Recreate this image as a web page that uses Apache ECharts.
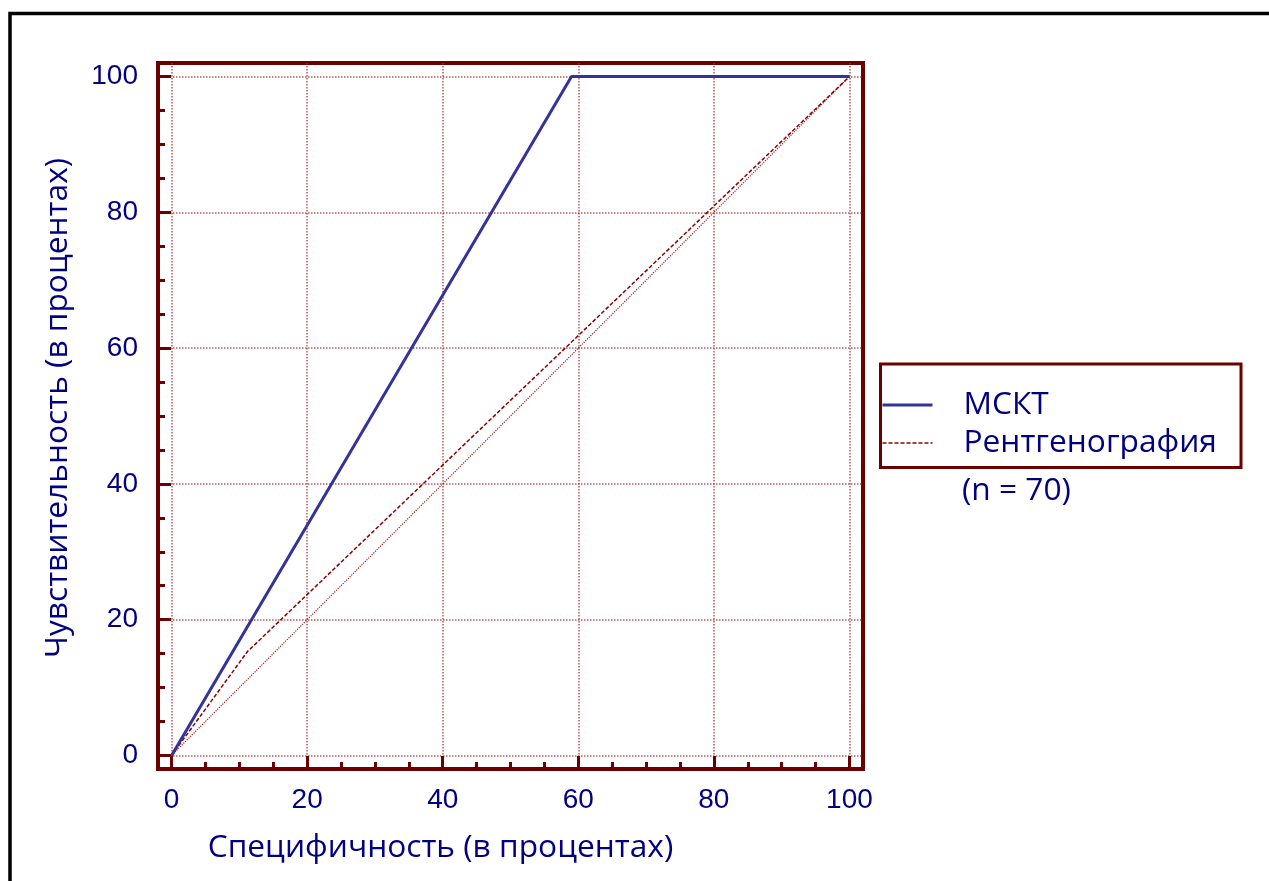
<!DOCTYPE html>
<html>
<head>
<meta charset="utf-8">
<script src="https://cdn.jsdelivr.net/npm/echarts@6/dist/echarts.min.js"></script>
<style>
html,body{margin:0;padding:0;background:#fff;}
#chart{width:1269px;height:881px;}
</style>
</head>
<body>
<div id="chart"></div>
<script>
// ---- data ----
const majorTicks = [0, 20, 40, 60, 80, 100];
const minorTicks = [0, 5, 10, 15, 20, 25, 30, 35, 40, 45, 50, 55, 60, 65, 70, 75, 80, 85, 90, 95, 100];
const msktSpec = [0, 59, 100];
const msktSens = [0, 100, 100];
const rentSpec = [0, 11.2, 100];
const rentSens = [0, 15.3, 100];
const diagSpec = [0, 100];
const diagSens = [0, 100];
const seriesNames = ['МСКТ', 'Рентгенография'];
const noteText = '(n = 70)';
const xTitle = 'Специфичность (в процентах)';
const yTitle = 'Чувствительность (в процентах)';

const zip = (a, b) => a.map((v, i) => [v, b[i]]);

const DARK = '#6B0000';
const NAVY = '#000080';
const BLUE = '#333399';
const RED = '#8B0000';
const GRIDC = 'rgba(165,50,50,0.8)';
const titleFont = '"Open Sans", "Noto Sans", sans-serif';
const tickFont = '"Liberation Sans", Arial, sans-serif';
const TFS = 31.7;

function mainAxis(pos) {
  return {
    type: 'value', position: pos, min: -2, max: 102,
    axisLine: { show: true, onZero: false, lineStyle: { color: DARK, width: 4 } },
    axisTick: { show: true, inside: true, length: 13, customValues: majorTicks,
                lineStyle: { color: DARK, width: 3 } },
    axisLabel: { show: true, customValues: majorTicks, color: NAVY,
                 fontFamily: tickFont, fontSize: 28, margin: pos === 'left' ? 20 : 17 },
    splitLine: { show: true, lineStyle: { color: GRIDC, type: 'dotted', width: 1.5 } },
    minorTick: { show: false }
  };
}
function minorAxis(pos) {
  return {
    type: 'value', position: pos, min: -2, max: 102,
    axisLine: { show: false, onZero: false },
    axisTick: { show: true, inside: true, length: 7, customValues: minorTicks,
                lineStyle: { color: DARK, width: 3 } },
    axisLabel: { show: false },
    splitLine: { show: false }
  };
}

const chart = echarts.init(document.getElementById('chart'));
chart.setOption({
  backgroundColor: '#fff',
  animation: false,
  grid: { left: 158, top: 63, width: 705, height: 706,
          show: true, borderColor: DARK, borderWidth: 4, backgroundColor: 'transparent' },
  xAxis: [mainAxis('bottom'), minorAxis('bottom')],
  yAxis: [mainAxis('left'), minorAxis('left')],
  legend: {
    data: [
      { name: seriesNames[0], itemStyle: { opacity: 0 }, lineStyle: { width: 3, color: BLUE } },
      { name: seriesNames[1], itemStyle: { opacity: 0 }, lineStyle: { width: 1.5, color: RED, type: [4, 2] } }
    ],
    orient: 'vertical',
    left: 881, top: 387,
    padding: 0,
    itemGap: 2,
    itemWidth: 50, itemHeight: 14,
    selectedMode: false,
    itemStyle: { opacity: 0 },
    textStyle: { color: NAVY, fontFamily: titleFont, fontSize: TFS, lineHeight: 36,
                 padding: [0, 0, 0, 26] }
  },
  series: [
    { name: seriesNames[0], type: 'line', data: zip(msktSpec, msktSens),
      symbol: 'none', lineStyle: { color: BLUE, width: 3 }, itemStyle: { color: BLUE },
      z: 5 },
    { name: seriesNames[1], type: 'line', data: zip(rentSpec, rentSens),
      symbol: 'none', lineStyle: { color: RED, width: 1.5, type: [4, 2] },
      itemStyle: { color: RED }, z: 4 },
    { name: 'diag', type: 'line', data: zip(diagSpec, diagSens),
      symbol: 'none', lineStyle: { color: '#A02020', width: 1.2, type: 'dotted' }, z: 3 }
  ],
  graphic: [
    { type: 'rect', silent: true, z: 100,
      shape: { x: 10, y: 13.5, width: 1400, height: 1000 },
      style: { fill: 'none', stroke: '#000', lineWidth: 3.5 } },
    { type: 'rect', silent: true,
      shape: { x: 880.5, y: 364, width: 360.5, height: 103.5 },
      style: { fill: 'none', stroke: DARK, lineWidth: 3 } },
    { type: 'text', left: 962, top: 475,
      style: { text: noteText, fill: NAVY, font: TFS + 'px ' + titleFont } },
    { type: 'text', x: 440.5, y: 848,
      style: { text: xTitle, fill: NAVY, font: TFS + 'px ' + titleFont,
               textAlign: 'center', textVerticalAlign: 'middle' } },
    { type: 'text', x: 58, y: 408, rotation: Math.PI / 2,
      style: { text: yTitle, fill: NAVY, font: TFS + 'px ' + titleFont,
               textAlign: 'center', textVerticalAlign: 'middle' } }
  ]
});
</script>
</body>
</html>
